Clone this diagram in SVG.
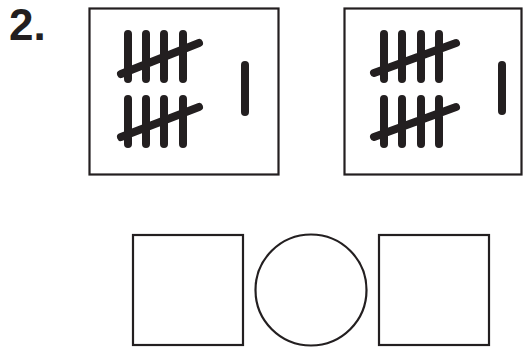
<svg xmlns="http://www.w3.org/2000/svg" width="525" height="348" viewBox="0 0 525 348">
<style>
.box{fill:#fff;stroke:#231f20;stroke-width:2.2}
.t{stroke:#231f20;stroke-width:8;stroke-linecap:round;fill:none}
.lbl{font-family:"Liberation Sans",Arial,sans-serif;font-weight:bold;font-size:44px;fill:#231f20}
</style>
<rect width="525" height="348" fill="#fff"/>
<text class="lbl" x="9" y="40">2.</text>
<g id="box1">
<rect class="box" x="89.5" y="8.5" width="189" height="166"/>
<path class="t" d="M128 34V79M146 34V79M164 34V79M183 34V79M121 74L199 43"/>
<path class="t" d="M128 99V144M146 99V144M164 99V144M183 99V144M121 137L199 107"/>
<path class="t" d="M245 65V112"/>
</g>
<g id="box2">
<rect class="box" x="344.5" y="8.5" width="177" height="166"/>
<path class="t" d="M384 34V79M402 34V79M421 34V79M439 34V79M374 73L456 43"/>
<path class="t" d="M384 99V144M402 99V144M421 99V144M439 99V144M374 137L456 107"/>
<path class="t" d="M502 65V111"/>
</g>
<g id="sq1"><rect class="box" x="133" y="235" width="110" height="110"/></g>
<g id="circ"><circle class="box" cx="311" cy="290" r="55.5"/></g>
<g id="sq2"><rect class="box" x="379" y="235" width="110" height="110"/></g>
</svg>
